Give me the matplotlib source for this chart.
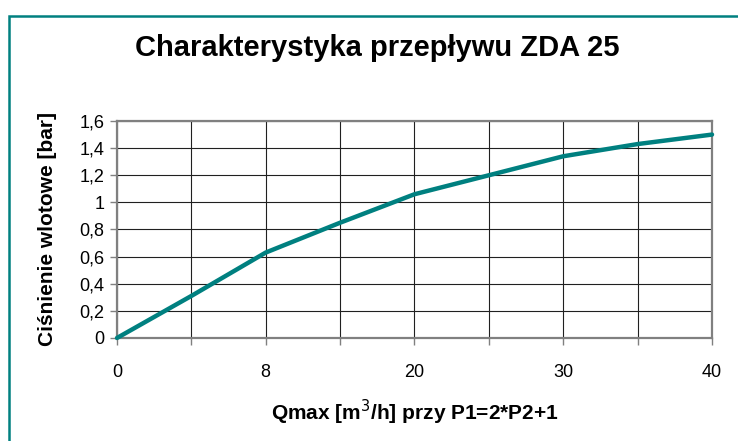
import numpy as np
import matplotlib
matplotlib.use("Agg")
import matplotlib.pyplot as plt
from matplotlib.patches import Rectangle

plt.rcParams['font.family'] = ['Liberation Sans', 'DejaVu Sans']

# categories on the x axis (only every second one is labelled)
categories = ["0", "", "8", "", "20", "", "30", "", "40"]
pressure = [0.0, 0.31, 0.63, 0.85, 1.06, 1.20, 1.34, 1.43, 1.50]
y_ticks = [0, 0.2, 0.4, 0.6, 0.8, 1.0, 1.2, 1.4, 1.6]
y_labels = ["0", "0,2", "0,4", "0,6", "0,8", "1", "1,2", "1,4", "1,6"]

teal = "#008080"

fig = plt.figure(figsize=(7.38, 4.41), dpi=100)
ax = fig.add_axes([0.1585, 0.2336, 0.8063, 0.4920])

x = np.arange(len(categories))
ax.plot(x, pressure, color=teal, linewidth=3.2, solid_capstyle="round", zorder=3, clip_on=False)

ax.set_xlim(0, len(categories) - 1)
ax.set_ylim(0, 1.6)
ax.set_xticks(x)
ax.set_xticklabels(categories)
ax.set_yticks(y_ticks)
ax.set_yticklabels(y_labels)
ax.grid(True, color="#202020", linewidth=0.8)
ax.set_axisbelow(True)

for s in ax.spines.values():
    s.set_color("#808080")
    s.set_linewidth(1.6)
ax.tick_params(axis="both", direction="out", length=5, width=1, color="#808080",
               labelsize=13, labelcolor="black")
ax.tick_params(axis="x", pad=14)
ax.tick_params(axis="y", pad=4)

ax.set_ylabel("Ciśnienie wlotowe [bar]", fontsize=15, fontweight="bold", labelpad=16)
ax.set_xlabel("Qmax [m$^{3}$/h] przy P1=2*P2+1", fontsize=15, fontweight="bold", labelpad=12)

fig.text(0.511, 0.892, "Charakterystyka przepływu ZDA 25", ha="center", va="center",
         fontsize=21, fontweight="bold")

# frame around the chart, cut at right and bottom edge
fig.patches.append(Rectangle((0.012, -0.05), 1.05, 1.013, transform=fig.transFigure,
                             fill=False, edgecolor=teal, linewidth=1.8))

fig.savefig("out.png", dpi=100)
